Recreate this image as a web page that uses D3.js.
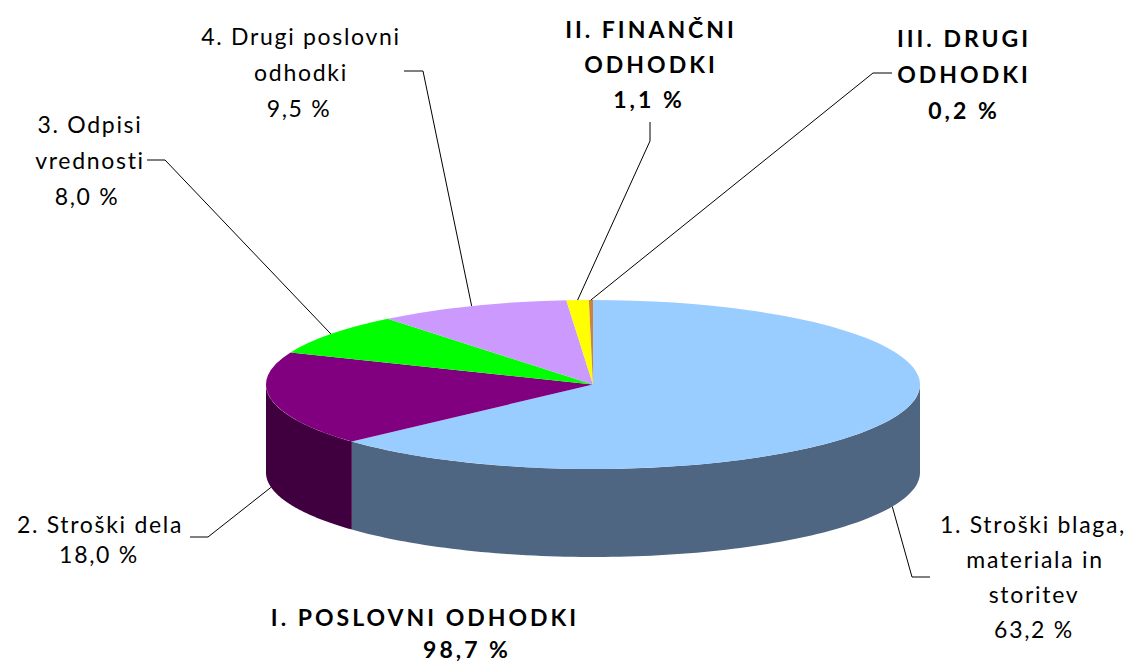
<!DOCTYPE html>
<meta charset="utf-8">
<head>
  <style>
    body {margin: 0; background-color: #ffffff;}
    text {font-family: Lato, "Open Sans", sans-serif; font-size: 23px; fill: #000; text-anchor: middle; letter-spacing: 1.7px;}
    text.bold {font-weight: 700; letter-spacing: 3px;}
  </style>
  <title></title>
</head>
<body>
  <script src="https://d3js.org/d3.v7.min.js"></script>
  <script>
    // values in %, clockwise from 12 o'clock
    const categories = ["1. Stroški blaga, materiala in storitev", "2. Stroški dela", "3. Odpisi vrednosti",
      "4. Drugi poslovni odhodki", "II. FINANČNI ODHODKI", "III. DRUGI ODHODKI"];
    const values = [63.2, 18.0, 8.0, 9.5, 1.1, 0.2];
    const topColors = ["#99ccff", "#800080", "#00ff00", "#cc99ff", "#ffff00", "#d08040"];
    const sideColors = ["#4f6682", "#400040", "#008000", "#665080", "#808000", "#684020"];

    // label text, one entry per line
    const labelLines = [
      ["1. Stroški blaga,", "materiala in", "storitev", "63,2 %"],
      ["2. Stroški dela", "18,0 %"],
      ["3. Odpisi", "vrednosti", "8,0 %"],
      ["4. Drugi poslovni", "odhodki", "9,5 %"],
      ["II. FINANČNI", "ODHODKI", "1,1 %"],
      ["III. DRUGI", "ODHODKI", "0,2 %"]
    ];
    const totalLines = ["I. POSLOVNI ODHODKI", "98,7 %"];

    const width = 1134, height = 664;
    const cx = 593, cy = 384.5, rx = 327, ry = 84.5, depth = 88;

    // layout of labels: x of each line, first baseline, line step, bold
    const labelLayout = [
      {x: [1033, 1035, 1034, 1034], y: 533, step: 35, bold: false},
      {x: [100, 99], y: 533, step: 30, bold: false},
      {x: [90, 90, 87], y: 133, step: 36, bold: false},
      {x: [301, 301, 299], y: 45, step: 36, bold: false},
      {x: [651, 651, 649], y: 38, step: 35, bold: true},
      {x: [964, 964, 964], y: 47, step: 36, bold: true}
    ];
    // second line sits a little high so it stays inside the window
    const totalLayout = {x: [425, 467], y: 626, step: 32};

    // leader elbows: [outer end, bend]
    const leaderElbows = [
      [[930, 577], [912, 577]],
      [[190, 537], [208, 537]],
      [[147, 160], [165, 160]],
      [[404, 71], [423, 71]],
      [[650, 122], [650, 141]],
      [[892, 73], [873, 73]]
    ];

    const svg = d3.select("body").append("svg")
      .style("display", "block")
      .attr("width", width)
      .attr("height", height);

    const slices = d3.pie().sort(null)(values);

    // flattened circle: angle 0 is up, clockwise
    const scaleX = d3.scaleLinear().domain([-1, 1]).range([cx - rx, cx + rx]);
    const scaleY = d3.scaleLinear().domain([-1, 1]).range([cy - ry, cy + ry]);
    const rimPoint = (a, dy = 0) => [scaleX(Math.sin(a)), scaleY(-Math.cos(a)) + dy];
    const line = d3.line();

    // front wall, only the part between 3 and 9 o'clock shows
    slices.forEach((s, i) => {
      const a0 = Math.max(s.startAngle, Math.PI / 2);
      const a1 = Math.min(s.endAngle, Math.PI * 1.5);
      if (a1 <= a0) return;
      const angles = d3.range(0, 101).map(k => a0 + (a1 - a0) * k / 100);
      const pts = angles.map(a => rimPoint(a)).concat(angles.slice().reverse().map(a => rimPoint(a, depth)));
      svg.append("path")
        .attr("d", line(pts) + "Z")
        .attr("fill", sideColors[i]);
    });

    // top of the pie
    const arc = d3.arc().innerRadius(0).outerRadius(rx);
    svg.append("g")
      .attr("transform", "translate(" + cx + "," + cy + ") scale(1," + (ry / rx) + ")")
      .selectAll("path")
      .data(slices)
      .enter()
      .append("path")
        .attr("d", arc)
        .attr("fill", (d, i) => topColors[i]);

    // leader lines end on the rim at mid angle of the slice
    slices.forEach((s, i) => {
      const mid = (s.startAngle + s.endAngle) / 2;
      const front = mid > Math.PI / 2 && mid < Math.PI * 1.5;
      const end = rimPoint(mid, front ? depth : 0);
      svg.append("path")
        .attr("d", line(leaderElbows[i].concat([end])))
        .attr("fill", "none")
        .attr("stroke", "#000")
        .attr("stroke-width", 1);
    });

    function drawLines(lines, lay, bold) {
      lines.forEach((t, k) => {
        svg.append("text")
          .attr("class", bold ? "bold" : null)
          .attr("x", lay.x[k])
          .attr("y", lay.y + k * lay.step)
          .text(t);
      });
    }
    labelLines.forEach((l, i) => drawLines(l, labelLayout[i], labelLayout[i].bold));
    drawLines(totalLines, totalLayout, true);
  </script>
</body>
</html>
